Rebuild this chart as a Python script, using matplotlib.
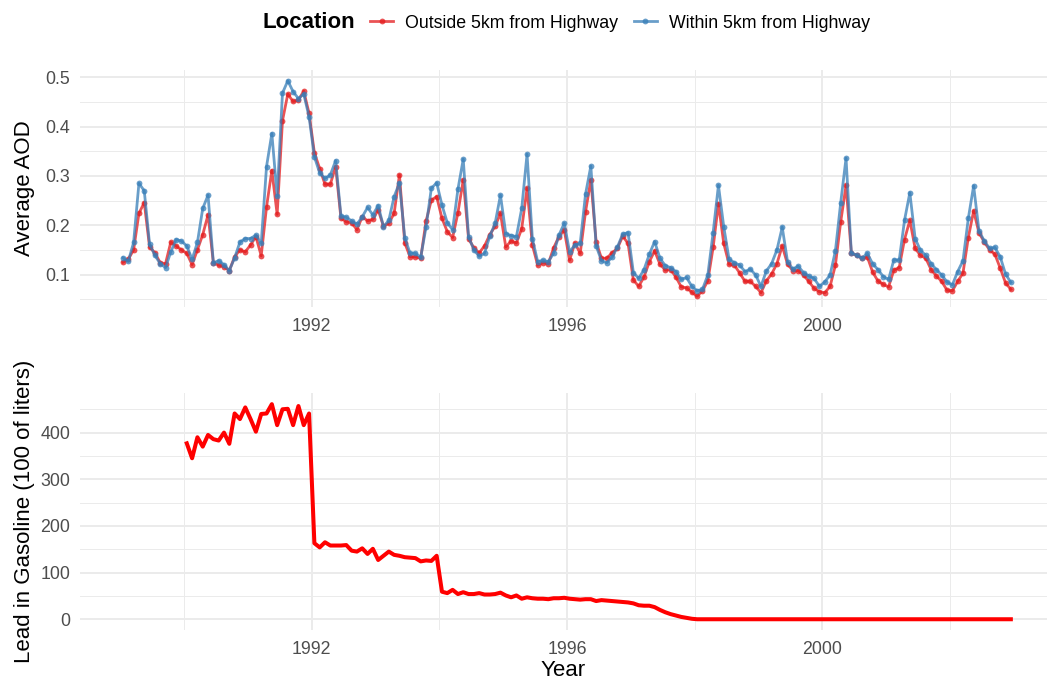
import numpy as np
import matplotlib

matplotlib.use("Agg")
import matplotlib.pyplot as plt
from matplotlib.lines import Line2D
from matplotlib.ticker import MultipleLocator

plt.rcParams["font.family"] = ["Liberation Sans", "DejaVu Sans"]

# monthly series, Jan 1989 .. Dec 2002 (plotted at mid-month)
first_year, n_months = 1989, 168

aod_outside = [
    0.125, 0.131, 0.150, 0.224, 0.246, 0.156, 0.144, 0.124, 0.122, 0.166,
    0.158, 0.150, 0.143, 0.120, 0.150, 0.181, 0.221, 0.124, 0.119, 0.116,
    0.108, 0.136, 0.150, 0.146, 0.160, 0.177, 0.138, 0.237, 0.311, 0.222,
    0.412, 0.466, 0.451, 0.454, 0.472, 0.427, 0.347, 0.315, 0.283, 0.283,
    0.319, 0.214, 0.207, 0.205, 0.191, 0.217, 0.209, 0.212, 0.231, 0.198,
    0.204, 0.224, 0.302, 0.164, 0.136, 0.136, 0.133, 0.208, 0.251, 0.258,
    0.214, 0.187, 0.175, 0.225, 0.292, 0.173, 0.154, 0.144, 0.158, 0.181,
    0.198, 0.224, 0.156, 0.168, 0.164, 0.193, 0.275, 0.160, 0.119, 0.124,
    0.122, 0.154, 0.177, 0.190, 0.129, 0.164, 0.143, 0.227, 0.292, 0.166,
    0.133, 0.133, 0.144, 0.153, 0.178, 0.163, 0.089, 0.076, 0.095, 0.126,
    0.148, 0.121, 0.109, 0.110, 0.095, 0.075, 0.073, 0.064, 0.056, 0.067,
    0.087, 0.155, 0.244, 0.163, 0.121, 0.119, 0.103, 0.086, 0.086, 0.076,
    0.063, 0.087, 0.101, 0.122, 0.158, 0.121, 0.108, 0.108, 0.099, 0.086,
    0.072, 0.065, 0.063, 0.076, 0.119, 0.207, 0.281, 0.143, 0.139, 0.133,
    0.136, 0.105, 0.087, 0.080, 0.075, 0.109, 0.114, 0.171, 0.210, 0.153,
    0.139, 0.133, 0.110, 0.097, 0.086, 0.068, 0.067, 0.086, 0.103, 0.175,
    0.229, 0.185, 0.166, 0.150, 0.141, 0.113, 0.083, 0.070,
]

aod_within = [
    0.134, 0.127, 0.165, 0.285, 0.270, 0.162, 0.139, 0.122, 0.114, 0.146,
    0.171, 0.168, 0.158, 0.131, 0.165, 0.234, 0.261, 0.124, 0.128, 0.120,
    0.108, 0.134, 0.166, 0.173, 0.173, 0.180, 0.163, 0.319, 0.386, 0.259,
    0.468, 0.493, 0.471, 0.457, 0.466, 0.420, 0.339, 0.306, 0.295, 0.302,
    0.331, 0.219, 0.216, 0.209, 0.202, 0.217, 0.236, 0.221, 0.240, 0.197,
    0.210, 0.258, 0.286, 0.175, 0.143, 0.143, 0.135, 0.196, 0.275, 0.286,
    0.241, 0.205, 0.191, 0.273, 0.334, 0.177, 0.150, 0.137, 0.143, 0.178,
    0.204, 0.261, 0.183, 0.179, 0.177, 0.234, 0.344, 0.173, 0.126, 0.129,
    0.126, 0.143, 0.180, 0.204, 0.146, 0.160, 0.163, 0.263, 0.320, 0.158,
    0.128, 0.124, 0.135, 0.156, 0.182, 0.185, 0.104, 0.092, 0.110, 0.141,
    0.167, 0.133, 0.118, 0.114, 0.106, 0.090, 0.094, 0.076, 0.067, 0.070,
    0.099, 0.185, 0.281, 0.197, 0.131, 0.124, 0.119, 0.106, 0.111, 0.099,
    0.076, 0.107, 0.122, 0.150, 0.196, 0.126, 0.111, 0.117, 0.104, 0.097,
    0.092, 0.076, 0.085, 0.099, 0.148, 0.246, 0.336, 0.144, 0.139, 0.133,
    0.143, 0.122, 0.110, 0.096, 0.090, 0.130, 0.129, 0.210, 0.266, 0.173,
    0.149, 0.139, 0.122, 0.110, 0.099, 0.085, 0.079, 0.106, 0.128, 0.214,
    0.280, 0.189, 0.168, 0.153, 0.155, 0.136, 0.101, 0.084,
]

# lead in gasoline, Jan 1990 .. Dec 2002
lead_start_month = 12
lead = [
    377, 345, 390, 370, 395, 386, 383, 400, 376, 441, 429, 454,
    429, 402, 440, 441, 461, 416, 450, 451, 416, 457, 416, 441,
    163, 154, 165, 158, 158, 158, 159, 147, 145, 152, 140, 151,
    127, 136, 145, 138, 136, 133, 132, 131, 124, 126, 125, 136,
    59, 56, 63, 54, 58, 54, 54, 56, 53, 53, 54, 57,
    51, 47, 51, 44, 47, 45, 44, 44, 43, 45, 45, 46,
    44, 43, 42, 43, 43, 39, 41, 40, 39, 38, 37, 36,
    34, 30, 29, 29, 26, 20, 15, 11, 8, 5, 3, 1,
] + [0] * 60

months = first_year + (np.arange(n_months) + 0.5) / 12
lead_months = months[lead_start_month:]

RED = "#E41A1C"
BLUE = "#377EB8"
GRID = "#EBEBEB"
TICK = "#4D4D4D"
TITLE_SIZE = 16
TEXT_SIZE = 12.8

W, H = 1047, 681
fig = plt.figure(figsize=(W / 100, H / 100), dpi=100)
ax1 = fig.add_axes([80 / W, 1 - 307 / H, 967 / W, 237 / H])
ax2 = fig.add_axes([80 / W, 1 - 630 / H, 967 / W, 236.6 / H])


def expand(vals, f=0.05):
    lo, hi = min(vals), max(vals)
    pad = (hi - lo) * f
    return lo - pad, hi + pad


def style(ax, ymajor, yminor):
    for s in ax.spines.values():
        s.set_visible(False)
    ax.set_xlim(1988.368, 2003.525)
    ax.xaxis.set_major_locator(MultipleLocator(4))
    ax.xaxis.set_minor_locator(MultipleLocator(2))
    ax.yaxis.set_major_locator(MultipleLocator(ymajor))
    ax.yaxis.set_minor_locator(MultipleLocator(yminor))
    ax.grid(which="major", color=GRID, linewidth=1.4)
    ax.grid(which="minor", color=GRID, linewidth=0.7)
    ax.set_axisbelow(True)
    ax.tick_params(which="both", length=0, labelsize=TEXT_SIZE, labelcolor=TICK)
    ax.tick_params(axis="y", pad=7)
    ax.tick_params(axis="x", pad=8)


ax1.plot(months, aod_outside, "-o", color=RED, alpha=0.75, lw=2.0, ms=4.2, mew=0)
ax1.plot(months, aod_within, "-o", color=BLUE, alpha=0.75, lw=2.0, ms=4.2, mew=0)
style(ax1, 0.1, 0.05)
ax1.set_ylim(*expand(aod_outside + aod_within))
ax1.set_ylabel("Average AOD", fontsize=TITLE_SIZE)
ax1.yaxis.set_label_coords(-0.047, 0.5)

ax2.plot(lead_months, lead, "-", color="red", lw=2.9)
style(ax2, 100, 50)
ax2.set_ylim(*expand(lead))
ax2.set_ylabel("Lead in Gasoline (100 of liters)", fontsize=TITLE_SIZE)
ax2.yaxis.set_label_coords(-0.047, 0.5)
ax2.set_xlabel("Year", fontsize=TITLE_SIZE, labelpad=1.5)

fig.text(263 / W, 1 - 23 / H, "Location", fontsize=TITLE_SIZE, fontweight="bold",
         va="center", ha="left")
handles = [
    Line2D([], [], color=RED, alpha=0.75, lw=2.0, marker="o", ms=4.2, mew=0),
    Line2D([], [], color=BLUE, alpha=0.75, lw=2.0, marker="o", ms=4.2, mew=0),
]
fig.legend(handles, ["Outside 5km from Highway", "Within 5km from Highway"],
           loc="center left", bbox_to_anchor=(370 / W, 1 - 23 / H), ncol=2,
           frameon=False, fontsize=TEXT_SIZE, handlelength=1.3, handletextpad=0.68,
           columnspacing=0.87, borderpad=0, borderaxespad=0)

fig.savefig("out.png", dpi=100)
